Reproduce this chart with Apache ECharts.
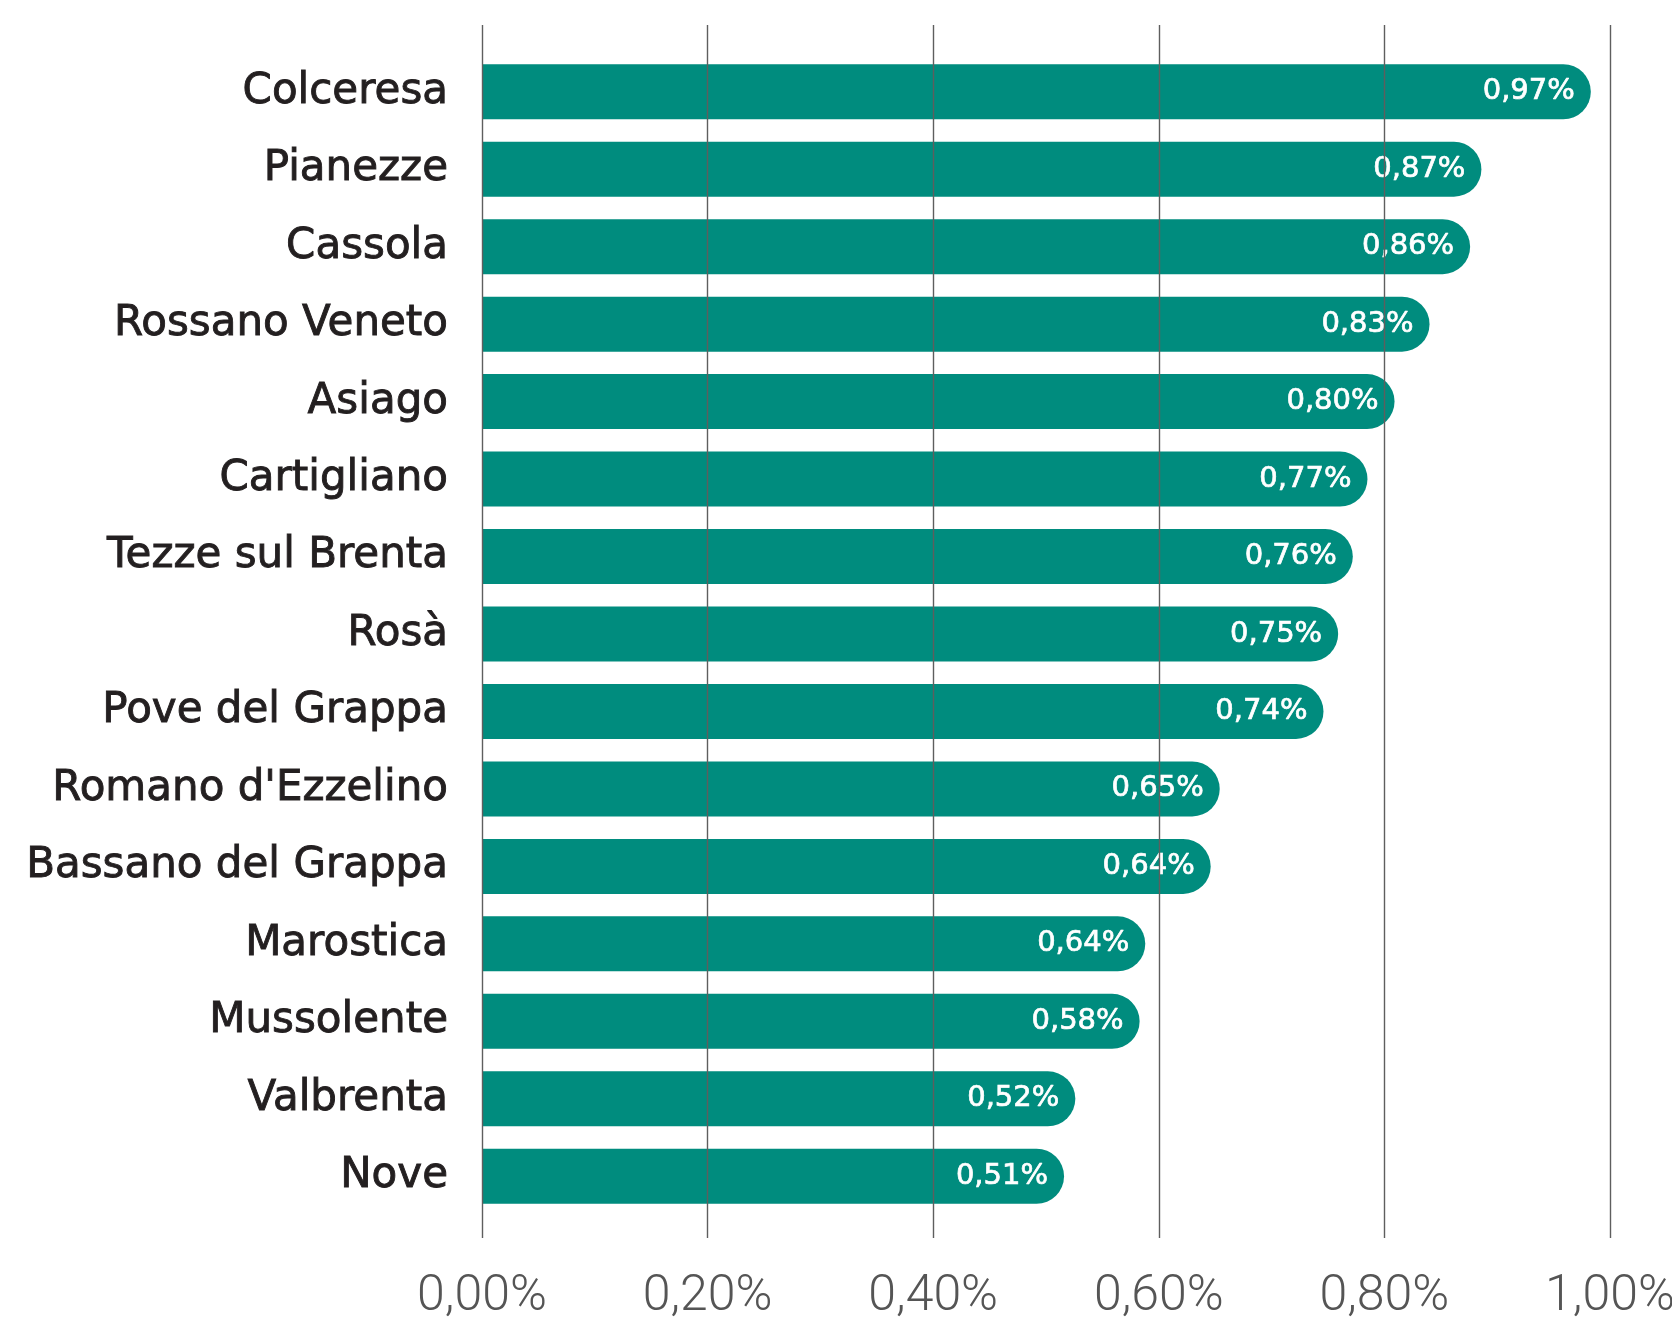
<!DOCTYPE html>
<html>
<head>
<meta charset="utf-8">
<script src="https://cdn.jsdelivr.net/npm/echarts@6/dist/echarts.min.js"></script>
<style>
html,body{margin:0;padding:0;background:#fff;}
#chart{width:1672px;height:1324px;}
</style>
</head>
<body>
<div id="chart"></div>
<script>
const categories = ['Colceresa','Pianezze','Cassola','Rossano Veneto','Asiago','Cartigliano','Tezze sul Brenta','Rosà','Pove del Grappa',"Romano d'Ezzelino",'Bassano del Grappa','Marostica','Mussolente','Valbrenta','Nove'];
const barValues = [0.983,0.886,0.876,0.840,0.809,0.785,0.772,0.759,0.746,0.654,0.646,0.588,0.583,0.526,0.516];
const valueLabels = ['0,97%','0,87%','0,86%','0,83%','0,80%','0,77%','0,76%','0,75%','0,74%','0,65%','0,64%','0,64%','0,58%','0,52%','0,51%'];
const axisMin = 0, axisMax = 1, axisStep = 0.2;

const chart = echarts.init(document.getElementById('chart'));
chart.setOption({
  backgroundColor: '#ffffff',
  animation: false,
  grid: [
    {left: 482, right: 62, top: 53, bottom: 109, outerBoundsMode: 'none', containLabel: false},
    {left: 482, right: 62, top: 25, bottom: 86, outerBoundsMode: 'none', containLabel: false}
  ],
  xAxis: [
    {gridIndex: 0, type: 'value', min: axisMin, max: axisMax, show: false},
    {gridIndex: 1, type: 'value', min: axisMin, max: axisMax, interval: axisStep, z: 10,
      axisLine: {show: false}, axisTick: {show: false},
      splitLine: {show: true, showMinLine: true, showMaxLine: true, lineStyle: {color: '#5e5e5e', width: 1.4}},
      axisLabel: {
        margin: 34, color: '#555555',
        fontFamily: "'Roboto'",
        fontWeight: 300, fontSize: 50,
        showMinLabel: true, showMaxLabel: true,
        formatter: v => v.toFixed(2).replace('.', ',') + '%'
      }
    }
  ],
  yAxis: [
    {gridIndex: 0, type: 'category', inverse: true, data: categories,
      axisLine: {show: false}, axisTick: {show: false}, splitLine: {show: false},
      axisLabel: {margin: 34, color: '#231f20', fontFamily: 'DejaVu Sans', fontSize: 42,
        textBorderColor: '#231f20', textBorderWidth: 0.9}
    },
    {gridIndex: 1, type: 'value', min: 0, max: 1, show: false}
  ],
  series: [{
    type: 'bar',
    xAxisIndex: 0, yAxisIndex: 0,
    data: barValues,
    barWidth: 55,
    itemStyle: {color: '#008c7e', borderRadius: [0, 28, 28, 0]},
    label: {
      show: true, position: 'insideRight', distance: 16, color: '#ffffff',
      fontFamily: 'DejaVu Sans', fontSize: 29,
      textBorderColor: '#ffffff', textBorderWidth: 0.7,
      formatter: p => valueLabels[p.dataIndex]
    }
  }]
});
</script>
</body>
</html>
